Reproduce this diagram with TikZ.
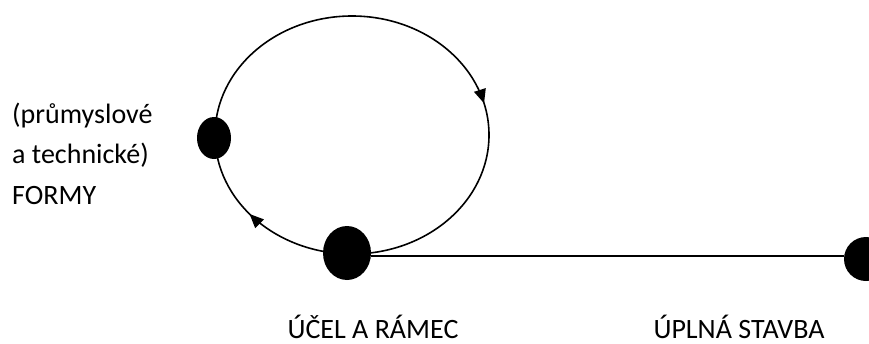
\documentclass[tikz,border=0pt]{standalone}
\usepackage{fontspec}
\setmainfont{Carlito}
\usetikzlibrary{arrows.meta,decorations.markings,shapes.geometric}
\begin{document}
\begin{tikzpicture}[x=1pt,y=-1pt,
  dot/.style={fill=black,draw=none,ellipse,inner sep=0pt},
  lbl/.style={font=\fontsize{28}{34}\selectfont,inner sep=0pt},
  conn/.style={line width=1.6pt}]
\useasboundingbox (0,0) rectangle (869,343);
\clip (0,0) rectangle (869,343);
% cycle (drawn clockwise)
\draw[conn,postaction={decorate},decoration={markings,
  mark=at position 0.21 with {\arrow{Triangle[length=14pt,width=12pt]}},
  mark=at position 0.64 with {\arrow{Triangle[length=14pt,width=12pt]}}}]
  (352,16) arc[start angle=270,end angle=630,x radius=137,y radius=119];
\node[dot,minimum width=34pt,minimum height=42pt] (formy) at (214,138) {};
\node[dot,minimum width=48pt,minimum height=54pt] (ucel) at (347,253) {};
\node[dot,minimum width=44pt,minimum height=44pt] (stavba) at (866,259) {};
\draw[conn] (ucel.east |- 0,256) -- (stavba.west |- 0,256);
\node[lbl,anchor=base west] (t1) at (12,123) {(průmyslové};
\node[lbl,anchor=base west] (t2) at (12,163) {a technické)};
\node[lbl,anchor=base west] (t3) at (12,204) {FORMY};
\node[lbl,anchor=base] (t4) at (373,338) {ÚČEL A RÁMEC};
\node[lbl,anchor=base] (t5) at (739,338) {ÚPLNÁ STAVBA};
\end{tikzpicture}
\end{document}
